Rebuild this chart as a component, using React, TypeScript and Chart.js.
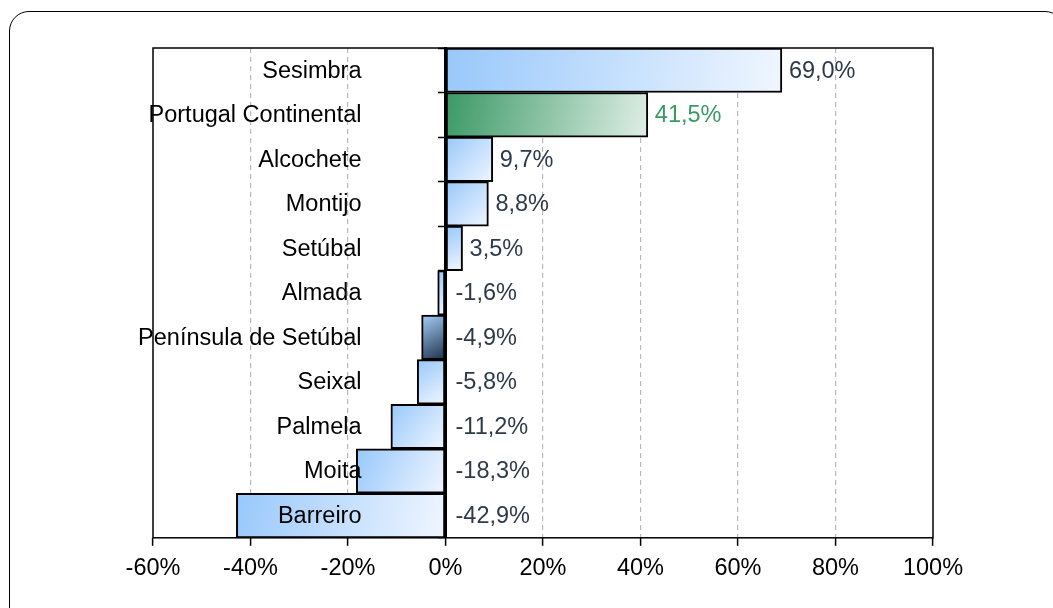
import React, { useEffect, useRef } from 'react';
import { Chart, registerables } from 'chart.js';

Chart.register(...registerables);

const categories: string[] = [
  'Sesimbra',
  'Portugal Continental',
  'Alcochete',
  'Montijo',
  'Setúbal',
  'Almada',
  'Península de Setúbal',
  'Seixal',
  'Palmela',
  'Moita',
  'Barreiro',
];

const values: number[] = [69.0, 41.5, 9.7, 8.8, 3.5, -1.6, -4.9, -5.8, -11.2, -18.3, -42.9];

const xTickValues: number[] = [-60, -40, -20, 0, 20, 40, 60, 80, 100];

const highlightCategory = 'Portugal Continental';
const regionCategory = 'Península de Setúbal';

const FONT = "'Liberation Sans', Arial, sans-serif";
const FONT_SIZE = 23.5;
const LABEL_GAP_FROM_AXIS = 84;
const TEXT_DARK = '#2E3A4A';
const TEXT_GREEN = '#3A9A62';

function fmt(v: number): string {
  return v.toFixed(1).replace('.', ',') + '%';
}

const decorPlugin = {
  id: 'decor',
  afterDatasetsDraw(chart: any) {
    const { ctx, scales } = chart;
    const xs = scales.x;
    const ys = scales.y;
    const zero = xs.getPixelForValue(0);
    const meta = chart.getDatasetMeta(0);
    ctx.save();
    ctx.font = `${FONT_SIZE}px ${FONT}`;
    ctx.textBaseline = 'middle';
    categories.forEach((c, i) => {
      const y = ys.getPixelForValue(i) + 1;
      ctx.textAlign = 'right';
      ctx.fillStyle = '#000';
      ctx.fillText(c, zero - LABEL_GAP_FROM_AXIS, y);
      const v = values[i];
      const el = meta.data[i];
      const x = v >= 0 ? el.x + 7 : zero + 10;
      ctx.textAlign = 'left';
      ctx.fillStyle = c === highlightCategory ? TEXT_GREEN : TEXT_DARK;
      ctx.fillText(fmt(v), x, y);
    });
    ctx.restore();
  },
  afterDraw(chart: any) {
    const { ctx, chartArea } = chart;
    ctx.save();
    ctx.strokeStyle = '#000';
    ctx.lineWidth = 1.5;
    ctx.setLineDash([]);
    ctx.strokeRect(chartArea.left, chartArea.top, chartArea.right - chartArea.left, chartArea.bottom - chartArea.top);
    ctx.restore();
  },
};

function barFill(context: any) {
  const chart = context.chart;
  const { chartArea, scales } = chart;
  const i = context.dataIndex;
  const c = categories[i];
  if (!chartArea || !scales.x || !scales.y || context.type !== 'data') return '#9DCBFB';
  const v = values[i];
  const x0 = scales.x.getPixelForValue(0);
  const x1 = scales.x.getPixelForValue(v);
  const yc = scales.y.getPixelForValue(i);
  const half = (chartArea.bottom - chartArea.top) / categories.length / 2;
  const left = Math.min(x0, x1);
  const right = Math.max(x0, x1);
  const g = chart.ctx.createLinearGradient(left, yc - half, right, yc + half);
  if (c === highlightCategory) {
    g.addColorStop(0, '#3A9865');
    g.addColorStop(1, '#E0EFE6');
  } else if (c === regionCategory) {
    g.addColorStop(0, '#A6D0FA');
    g.addColorStop(1, '#1C3049');
  } else {
    g.addColorStop(0, '#98C8FB');
    g.addColorStop(1, '#F0F6FF');
  }
  return g;
}

export default function App() {
  const ref = useRef<HTMLCanvasElement | null>(null);

  useEffect(() => {
    if (!ref.current) return;
    const chart = new Chart(ref.current, {
      type: 'bar',
      data: {
        labels: categories,
        datasets: [
          {
            data: values,
            backgroundColor: barFill as any,
            borderColor: '#000',
            borderWidth: 2,
            borderSkipped: false,
            categoryPercentage: 1,
            barPercentage: 1,
          },
        ],
      },
      plugins: [decorPlugin],
      options: {
        indexAxis: 'y',
        animation: false,
        responsive: false,
        devicePixelRatio: 1,
        events: [],
        layout: { padding: { left: 153, top: 48, right: 120, bottom: 16 } },
        plugins: { legend: { display: false }, tooltip: { enabled: false }, title: { display: false } },
        scales: {
          x: {
            type: 'linear',
            min: -60,
            max: 100,
            afterBuildTicks: (s: any) => {
              s.ticks = xTickValues.map((v) => ({ value: v }));
            },
            ticks: {
              callback: (v: any) => `${v}%`,
              color: '#000',
              font: { family: FONT, size: FONT_SIZE },
              padding: 9,
              maxRotation: 0,
              autoSkip: false,
            },
            grid: {
              color: (ctx: any) => {
                const v = ctx.tick ? ctx.tick.value : null;
                return v === -60 || v === 0 || v === 100 ? 'rgba(0,0,0,0)' : '#B8B8B8';
              },
              lineWidth: 1.2,
              tickColor: '#000',
              tickWidth: 1.5,
              tickLength: 8,
              tickBorderDash: [],
              drawTicks: true,
            } as any,
            border: { display: false, color: '#000', width: 2, dash: [5, 4] },
          },
          y: {
            type: 'category',
            position: { x: 0 } as any,
            z: 1,
            offset: true,
            ticks: { display: false },
            grid: {
              offset: true,
              drawOnChartArea: false,
              drawTicks: true,
              tickLength: 6,
              tickColor: '#000',
              tickWidth: 1.5,
            },
            border: { display: true, color: '#000', width: 3 },
          },
        },
      },
    });
    return () => chart.destroy();
  }, []);

  return (
    <div
      style={{
        position: 'absolute',
        left: 0,
        top: 0,
        width: 1053,
        height: 608,
        overflow: 'hidden',
        background: '#fff',
      }}
    >
      <div
        style={{
          position: 'absolute',
          left: 9,
          top: 11,
          width: 1056,
          height: 640,
          border: '1.5px solid #000',
          borderRadius: 20,
          boxSizing: 'border-box',
        }}
      />
      <canvas ref={ref} width={1053} height={608} style={{ position: 'absolute', left: 0, top: 0, display: 'block' }} />
    </div>
  );
}
